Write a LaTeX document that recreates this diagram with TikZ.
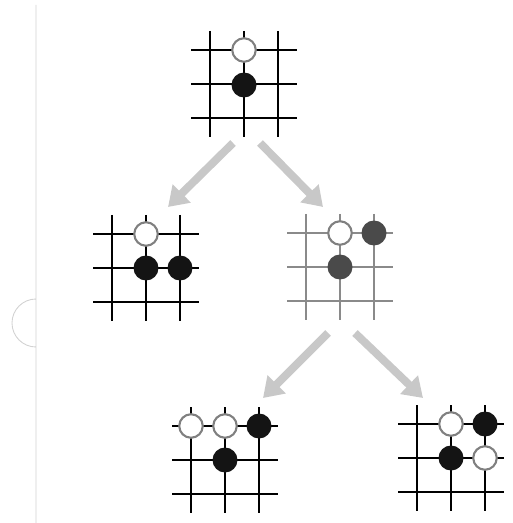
\documentclass[tikz,border=0pt]{standalone}
\usepackage{tikz}
\usetikzlibrary{arrows.meta,calc}
\definecolor{movegray}{HTML}{C8C8C8}
\definecolor{fadeline}{HTML}{8A8A8A}
\definecolor{fadestone}{HTML}{4A4A4A}

\begin{document}
\begin{tikzpicture}[
  x=0.02cm, y=-0.02cm,
  gridline/.style={line width=1.4pt},
  whitestone/.style={circle, draw=gray, line width=1.2pt, fill=white, minimum size=0.47cm, inner sep=0pt},
  blackstone/.style={circle, fill=black!92, minimum size=0.5cm, inner sep=0pt},
  greystone/.style={circle, fill=fadestone, minimum size=0.5cm, inner sep=0pt},
  move/.style={line width=4.5pt, movegray, -{Triangle[length=11pt, width=14pt]}},
  pics/board/.style={code={
    \foreach \i in {-1,0,1} {
      \draw[gridline, draw=#1] (\i*34,-53) -- (\i*34,53);
      \draw[gridline, draw=#1] (-53,\i*34) -- (53,\i*34);
    }
  }}
]
  \useasboundingbox (0,0) rectangle (512,523);

  % page edge with the binding hole
  \draw[gray!35, line width=0.5pt] (36,5) -- (36,347) arc[start angle=90, end angle=270, radius=24] -- (36,523);

  % Board 1: start position
  \pic at (244,84) {board=black};
  \node[whitestone] (b1w1) at (244,50) {};
  \node[blackstone] (b1b1) at (244,85) {};

  % Board 2: left reply
  \pic at (146,268) {board=black};
  \node[whitestone] (b2w1) at (146,234) {};
  \node[blackstone] (b2b1) at (146,268) {};
  \node[blackstone] (b2b2) at (180,268) {};

  % Board 3: right reply (faded)
  \pic at (340,267) {board=fadeline};
  \node[whitestone] (b3w1) at (340,233) {};
  \node[greystone] (b3b1) at (374,233) {};
  \node[greystone] (b3b2) at (340,267) {};

  % Board 4: bottom left
  \pic at (225,460) {board=black};
  \node[whitestone] (b4w1) at (191,426) {};
  \node[whitestone] (b4w2) at (225,426) {};
  \node[blackstone] (b4b1) at (259,426) {};
  \node[blackstone] (b4b2) at (225,460) {};

  % Board 5: bottom right
  \pic at (451,458) {board=black};
  \node[whitestone] (b5w1) at (451,424) {};
  \node[blackstone] (b5b1) at (485,424) {};
  \node[blackstone] (b5b2) at (451,458) {};
  \node[whitestone] (b5w2) at (485,458) {};

  % arrow ends
  \coordinate (m1s) at (233,143);
  \coordinate (m1e) at (168,207);
  \coordinate (m2s) at (260,143);
  \coordinate (m2e) at (323,207);
  \coordinate (m3s) at (328,333);
  \coordinate (m3e) at (263,398);
  \coordinate (m4s) at (355,333);
  \coordinate (m4e) at (423,398);

  % Arrows
  \draw[move] (m1s) -- (m1e);
  \draw[move] (m2s) -- (m2e);
  \draw[move] (m3s) -- (m3e);
  \draw[move] (m4s) -- (m4e);
\end{tikzpicture}
\end{document}
